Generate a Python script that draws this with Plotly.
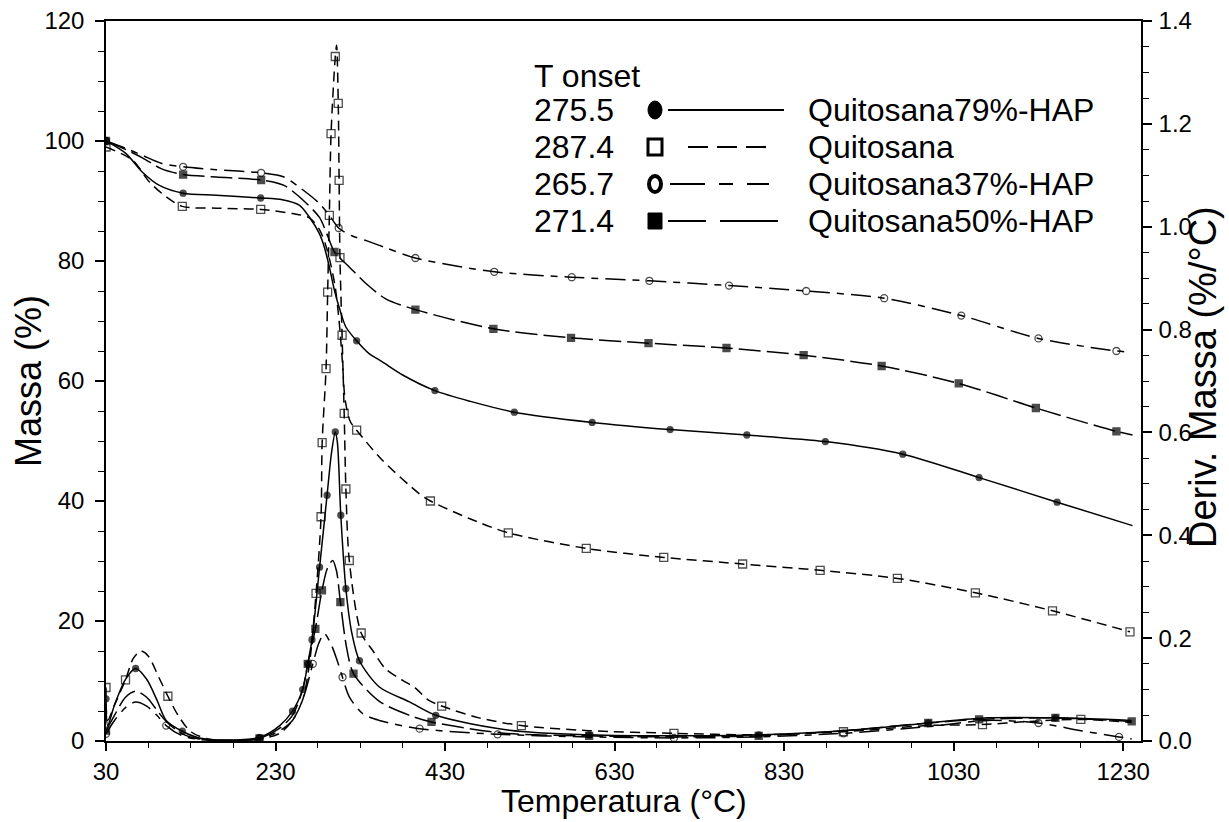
import plotly.graph_objects as go

# ---------------- data ----------------
# Mass (%) curves
temp_q79_mass = [30, 53.6, 73, 93, 121, 160, 212.5, 238, 258, 270, 281.6, 287.6, 293.5, 299.5, 305, 313,
                 325.7, 340, 356, 380, 418, 460, 511.7, 603.5, 695.5, 786, 878.6, 970, 1060, 1152, 1241]
mass_q79 = [100, 97.9, 94.8, 92.6, 91.3, 90.95, 90.5, 90.2, 89.3, 87.3, 84.6, 82.3, 79.0, 75.1, 72.3, 69.0,
            66.7, 64.6, 63.2, 61.0, 58.4, 56.6, 54.8, 53.1, 51.9, 51.0, 49.9, 47.8, 43.9, 39.8, 35.9]
mk_q79_mass = [30, 121, 212.5, 325.7, 418, 511.7, 603.5, 695.5, 786, 878.6, 970, 1060, 1152]

temp_qui_mass = [30, 61.5, 81, 101, 120, 160, 212.5, 250, 270, 282, 291, 300, 305, 309, 312, 318,
                 325.7, 356, 399.7, 412.7, 460, 504.6, 596.6, 688, 781, 872.5, 963.6, 1055.6, 1146.6, 1238]
mass_qui = [99, 96.8, 93.2, 90.7, 89.1, 88.8, 88.6, 87.9, 87.2, 85.2, 81.8, 76.0, 70.0, 63.0, 57.0, 53.3,
            51.8, 46.8, 41.2, 40.0, 37.0, 34.7, 32.1, 30.6, 29.5, 28.45, 27.1, 24.7, 21.7, 18.2]
mk_qui_mass = [30, 120, 212.5, 325.7, 412.7, 504.6, 596.6, 688, 781, 872.5, 963.6, 1055.6, 1146.6, 1238]

temp_q37_mass = [30, 53, 73, 95, 121, 160, 213, 240, 258, 281.6, 295, 304.5, 320, 337, 360, 395,
                 488, 579.5, 671, 765, 856, 948, 1039, 1130, 1222, 1238]
mass_q37 = [100, 98.8, 97.6, 96.3, 95.7, 95.2, 94.7, 94.0, 92.3, 89.6, 87.3, 85.5, 84.2, 83.4, 82.2, 80.5,
            78.2, 77.3, 76.7, 75.9, 75.0, 73.8, 70.9, 67.1, 65.0, 64.8]
mk_q37_mass = [30, 121, 213, 304.5, 395, 488, 579.5, 671, 765, 856, 948, 1039, 1130, 1222]

temp_q50_mass = [30, 53, 73, 95, 121, 160, 213, 240, 258, 281.6, 292, 299.5, 317, 337, 360, 395,
                 487, 578.6, 670, 762, 853, 945, 1036, 1127, 1222, 1241]
mass_q50 = [100, 98.6, 97.2, 95.4, 94.4, 94.0, 93.5, 92.6, 90.7, 87.3, 84.0, 81.5, 79.0, 76.2, 73.7, 71.9,
            68.7, 67.2, 66.3, 65.5, 64.3, 62.5, 59.6, 55.5, 51.6, 51.0]
mk_q50_mass = [30, 121, 213, 299.5, 395, 487, 578.6, 670, 762, 853, 945, 1036, 1127, 1222]

# Derivative mass (%/°C) curves
temp_qui_dtg = [30, 32, 40, 53, 62, 71, 80, 92, 103, 115, 130, 150, 180, 210, 235, 250, 262, 270,
                277.8, 283.7, 285, 289.6, 291.5, 293.5, 295.5, 300.5, 302, 304, 305, 306, 308.5, 311,
                313, 317, 331, 345, 360, 380, 395, 410, 426, 470, 520, 600, 700, 800, 900, 1000, 1064,
                1120, 1180, 1240]
dtg_qui = [0.104, 0.04, 0.07, 0.119, 0.16, 0.175, 0.165, 0.125, 0.087, 0.05, 0.018, 0.004, 0.001, 0.003,
           0.015, 0.04, 0.08, 0.15, 0.287, 0.436, 0.58, 0.724, 0.873, 1.022, 1.181, 1.331, 1.353, 1.24,
           1.09, 0.94, 0.789, 0.637, 0.49, 0.351, 0.21, 0.175, 0.14, 0.118, 0.103, 0.08, 0.068, 0.045,
           0.03, 0.02, 0.015, 0.012, 0.018, 0.03, 0.032, 0.038, 0.042, 0.036]
mk_qui_dtg = [30, 53, 103, 277.8, 283.7, 285, 289.6, 291.5, 293.5, 295.5, 300.5, 304, 305, 306, 308.5,
              311, 313, 317, 331, 426, 520, 700, 900, 1064, 1180]

temp_q79_dtg = [30, 32, 40, 53, 65, 78, 90, 101, 120, 140, 170, 211, 235, 250, 262, 268, 273, 282,
                290.8, 296, 300.5, 303, 307, 313, 320, 329, 352.5, 388, 419, 506, 600, 700, 800, 900,
                1000, 1070, 1150, 1240]
dtg_q79 = [0.082, 0.03, 0.07, 0.12, 0.141, 0.12, 0.08, 0.04, 0.019, 0.006, 0.002, 0.007, 0.03, 0.058,
           0.10, 0.15, 0.197, 0.338, 0.478, 0.56, 0.601, 0.58, 0.439, 0.296, 0.21, 0.156, 0.105, 0.076,
           0.05, 0.021, 0.012, 0.01, 0.012, 0.02, 0.035, 0.045, 0.045, 0.04]
mk_q79_dtg = [30, 65, 120, 211, 250, 262, 268, 273, 282, 290.8, 300.5, 307, 313, 329, 419, 600, 800,
              1000, 1150]

temp_q50_dtg = [30, 40, 53, 65, 78, 90, 101, 120, 140, 170, 211, 235, 250, 262, 268, 277, 284.8, 291,
                297.4, 302, 306.5, 314, 322, 352.5, 388, 414, 500, 600, 700, 800, 900, 1000, 1060, 1150,
                1240]
dtg_q50 = [0.02, 0.05, 0.085, 0.097, 0.085, 0.06, 0.038, 0.014, 0.004, 0.001, 0.005, 0.025, 0.05, 0.10,
           0.15, 0.218, 0.293, 0.335, 0.351, 0.33, 0.27, 0.18, 0.131, 0.077, 0.05, 0.037, 0.015, 0.01,
           0.008, 0.01, 0.02, 0.035, 0.042, 0.045, 0.038]
mk_q50_dtg = [30, 211, 268, 277, 284.8, 306.5, 322, 414, 600, 800, 1000, 1060, 1150, 1240]

temp_q37_dtg = [30, 40, 53, 65, 78, 90, 101, 120, 140, 170, 211, 235, 250, 262, 274, 281, 287.5, 295,
                302, 309, 317, 333, 352.5, 400, 492, 600, 700, 800, 900, 1000, 1070, 1130, 1180, 1225,
                1240]
dtg_q37 = [0.014, 0.04, 0.065, 0.076, 0.068, 0.05, 0.03, 0.01, 0.003, 0.001, 0.004, 0.02, 0.04, 0.08,
           0.15, 0.19, 0.209, 0.19, 0.16, 0.124, 0.086, 0.053, 0.04, 0.024, 0.013, 0.008, 0.006, 0.008,
           0.015, 0.028, 0.04, 0.035, 0.02, 0.008, 0.004]
mk_q37_dtg = [30, 101, 211, 274, 309, 400, 492, 700, 900, 1130, 1225]

legend_onset = ["275.5", "287.4", "265.7", "271.4"]
legend_names = ["Quitosana79%-HAP", "Quitosana", "Quitosana37%-HAP", "Quitosana50%-HAP"]

# ---------------- styling ----------------
FONT = "Liberation Sans, Arial, sans-serif"
W, H = 1229, 822
L, R, TOP, BOT = 106, 1141, 21, 741

DASH_QUI = "10px,6px"
DASH_Q37 = "20px,7px,7px,7px"
DASH_Q50 = "22px,6px"

series = [
    # (x, y, marker temps, axis, dash, symbol, size)
    (temp_q79_mass, mass_q79, mk_q79_mass, "y", "solid", "circle", 6),
    (temp_qui_mass, mass_qui, mk_qui_mass, "y", DASH_QUI, "square-open", 8),
    (temp_q37_mass, mass_q37, mk_q37_mass, "y", DASH_Q37, "circle-open", 7),
    (temp_q50_mass, mass_q50, mk_q50_mass, "y", DASH_Q50, "square", 7),
    (temp_q79_dtg, dtg_q79, mk_q79_dtg, "y2", "solid", "circle", 6),
    (temp_qui_dtg, dtg_qui, mk_qui_dtg, "y2", DASH_QUI, "square-open", 8),
    (temp_q37_dtg, dtg_q37, mk_q37_dtg, "y2", DASH_Q37, "circle-open", 7),
    (temp_q50_dtg, dtg_q50, mk_q50_dtg, "y2", DASH_Q50, "square", 7),
]

fig = go.Figure()
for xs, ys, mks, axis, dash, sym, size in series:
    marked = set(mks)
    sizes = [size if x in marked else 0 for x in xs]
    fig.add_trace(go.Scatter(
        x=xs, y=ys, yaxis=axis, mode="lines+markers",
        line=dict(color="black", width=1.5, dash=dash, shape="spline", smoothing=0.8),
        marker=dict(symbol=sym, size=sizes, color="black",
                    line=dict(color="black", width=1.3)),
        showlegend=False, hoverinfo="skip",
    ))


def px(x):
    return (x - L) / (R - L)


def py(y):
    return (BOT - y) / (BOT - TOP)


axis_font = dict(family=FONT, size=24, color="black")
fig.update_layout(
    width=W, height=H,
    margin=dict(l=L, r=W - R, t=TOP, b=H - BOT, autoexpand=False),
    paper_bgcolor="white", plot_bgcolor="white",
    showlegend=False,
    xaxis=dict(
        range=[30, 1251], tick0=30, dtick=200, ticks="outside", ticklen=8, tickwidth=1.5,
        tickcolor="black", showline=True, linewidth=1.5, linecolor="black", mirror=True,
        showgrid=False, zeroline=False, tickfont=axis_font, ticklabelstandoff=0,
        minor=dict(ticks="outside", ticklen=5, tick0=30, dtick=50, tickcolor="black", tickwidth=1.2),
    ),
    yaxis=dict(
        range=[0, 120], tick0=0, dtick=20, ticks="outside", ticklen=9, tickwidth=1.5,
        tickcolor="black", showline=True, linewidth=1.5, linecolor="black",
        showgrid=False, zeroline=False, tickfont=axis_font, ticklabelstandoff=6,
        minor=dict(ticks="outside", ticklen=6, tick0=0, dtick=5, tickcolor="black", tickwidth=1.2),
    ),
    yaxis2=dict(
        range=[0, 1.4], tick0=0, dtick=0.2, tickformat=".1f", overlaying="y", side="right",
        ticks="outside", ticklen=9, tickwidth=1.5, tickcolor="black", showline=True,
        linewidth=1.5, linecolor="black", showgrid=False, zeroline=False, tickfont=axis_font,
        ticklabelstandoff=2,
        minor=dict(ticks="outside", ticklen=6, tick0=0, dtick=0.05, tickcolor="black", tickwidth=1.2),
    ),
)

annotations = [
    dict(text="Temperatura (°C)", x=0.5, y=py(801), xref="paper", yref="paper",
         showarrow=False, font=dict(family=FONT, size=32, color="black"),
         xanchor="center", yanchor="middle"),
    dict(text="Massa (%)", x=px(28), y=0.5, xref="paper", yref="paper", textangle=-90,
         showarrow=False, font=dict(family=FONT, size=36, color="black"),
         xanchor="center", yanchor="middle"),
    dict(text="Deriv. Massa (%/°C)", x=px(1203), y=py(377), xref="paper", yref="paper",
         textangle=-90, showarrow=False, font=dict(family=FONT, size=38, color="black"),
         xanchor="center", yanchor="middle"),
]

# ---------------- key block ----------------
leg_font = dict(family=FONT, size=32, color="black")
row_y = [110, 147, 184, 221]
annotations.append(dict(text="T onset", x=px(532), y=py(76), xref="paper", yref="paper",
                        showarrow=False, font=leg_font, xanchor="left", yanchor="middle"))
for yy, onset, name in zip(row_y, legend_onset, legend_names):
    annotations.append(dict(text=onset, x=px(532), y=py(yy), xref="paper", yref="paper",
                            showarrow=False, font=leg_font, xanchor="left", yanchor="middle"))
    annotations.append(dict(text=name, x=px(806), y=py(yy), xref="paper", yref="paper",
                            showarrow=False, font=leg_font, xanchor="left", yanchor="middle"))
fig.update_layout(annotations=annotations)

shapes = []
cx, half = 655, 8
key_lines = [
    (668, 784, "solid"),
    (688, 770, "20px,9px"),
    (670, 772, "35px,14px,14px,14px,22px,200px"),
    (668, 778, "38px,14px,60px"),
]
for yy, (x0, x1, dash) in zip(row_y, key_lines):
    shapes.append(dict(type="line", xref="paper", yref="paper", x0=px(x0), x1=px(x1),
                       y0=py(yy), y1=py(yy), line=dict(color="black", width=2.2, dash=dash)))
# symbols of the key
y0 = row_y[0]
shapes.append(dict(type="circle", xref="paper", yref="paper", x0=px(cx - 7), x1=px(cx + 7),
                   y0=py(y0 - 9), y1=py(y0 + 9), fillcolor="black", line=dict(color="black", width=1)))
y1 = row_y[1]
shapes.append(dict(type="rect", xref="paper", yref="paper", x0=px(cx - half + 1), x1=px(cx + half - 1),
                   y0=py(y1 - half), y1=py(y1 + half), fillcolor="white",
                   line=dict(color="black", width=3)))
y2 = row_y[2]
shapes.append(dict(type="circle", xref="paper", yref="paper", x0=px(cx - 6), x1=px(cx + 6),
                   y0=py(y2 - 8), y1=py(y2 + 8), fillcolor="white",
                   line=dict(color="black", width=4)))
y3 = row_y[3]
shapes.append(dict(type="rect", xref="paper", yref="paper", x0=px(cx - half + 1), x1=px(cx + half - 1),
                   y0=py(y3 - half), y1=py(y3 + half), fillcolor="black",
                   line=dict(color="black", width=1)))
fig.update_layout(shapes=shapes)

fig.write_html("out.html")
